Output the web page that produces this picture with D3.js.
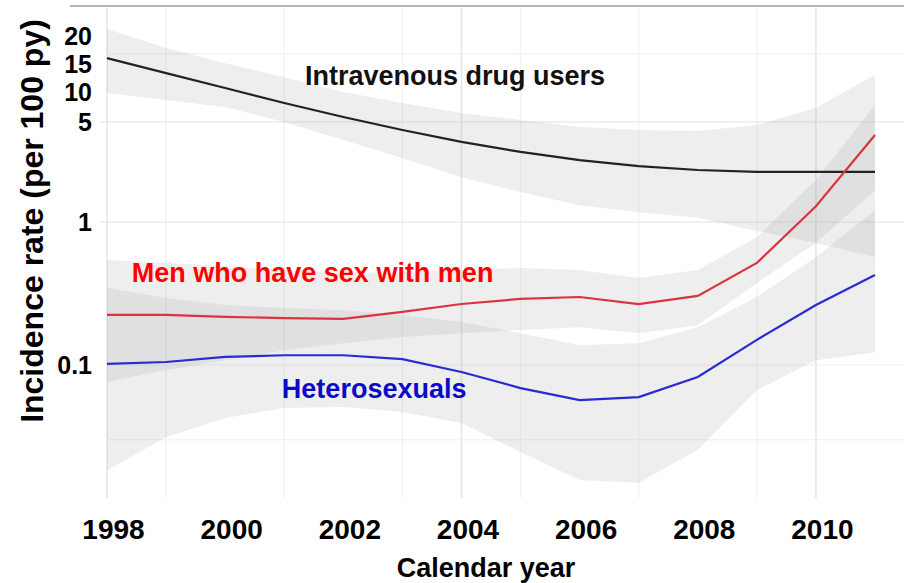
<!DOCTYPE html>
<html>
<head>
<meta charset="utf-8">
<script src="https://cdn.jsdelivr.net/npm/d3@7"></script>
<style>
    body { margin: 0; background: #fff; }
    text { font-family: "Liberation Sans", Arial, sans-serif; font-weight: bold; }
</style>
</head>
<body>
<svg id="chart"></svg>
<script>
    const width = 904;
    const height = 583;

    // calendar years (x categories)
    const years = [1998, 1999, 2000, 2001, 2002, 2003, 2004, 2005, 2006, 2007, 2008, 2009, 2010, 2011];

    // Intravenous drug users: fitted incidence and confidence band
    const iduRate = [14.0, 11.0, 8.65, 6.79, 5.42, 4.40, 3.63, 3.09, 2.71, 2.46, 2.31, 2.24, 2.24, 2.24];
    const iduHigh = [22.4, 16.5, 12.9, 10.3, 8.11, 6.79, 5.78, 5.17, 4.62, 4.40, 4.33, 4.77, 6.27, 10.7];
    const iduLow = [7.98, 7.13, 6.37, 5.00, 3.75, 2.80, 2.06, 1.62, 1.31, 1.17, 1.07, 0.865, 0.713, 0.569];

    // Men who have sex with men
    const msmRate = [0.224, 0.224, 0.217, 0.213, 0.210, 0.235, 0.267, 0.290, 0.299, 0.267, 0.304, 0.517, 1.29, 4.06];
    const msmHigh = [0.542, 0.517, 0.492, 0.462, 0.440, 0.447, 0.462, 0.477, 0.462, 0.406, 0.462, 0.785, 1.97, 6.58];
    const msmLow = [0.0761, 0.0923, 0.108, 0.127, 0.142, 0.157, 0.167, 0.176, 0.184, 0.167, 0.190, 0.374, 0.713, 1.67];

    // Heterosexuals
    const hetRate = [0.102, 0.105, 0.114, 0.117, 0.117, 0.110, 0.0893, 0.069, 0.0569, 0.0597, 0.0824, 0.150, 0.263, 0.426];
    const hetHigh = [0.345, 0.294, 0.263, 0.250, 0.242, 0.224, 0.200, 0.167, 0.138, 0.142, 0.184, 0.299, 0.569, 1.21];
    const hetLow = [0.0184, 0.0314, 0.0426, 0.0500, 0.0508, 0.0469, 0.0393, 0.0246, 0.0157, 0.0150, 0.0254, 0.0669, 0.108, 0.123];

    // axis ticks
    const xTicks = [1998, 2000, 2002, 2004, 2006, 2008, 2010];
    const yTicks = [20, 15, 10, 5, 1, 0.1];
    const yGridMajor = [1, 5];
    const yGridMinor = [15, 0.1, 0.03];
    const xGridMajor = [1998, 2004, 2010];
    const xGridMinor = [1999, 2001, 2003, 2005, 2007, 2009];

    // in-plot group labels (year, rate at baseline)
    const groupLabels = [
        { text: "Intravenous drug users", year: 2001.35, rate: 9.08, color: "#111111" },
        { text: "Men who have sex with men", year: 1998.42, rate: 0.38, color: "#ff0000" },
        { text: "Heterosexuals", year: 2000.96, rate: 0.0588, color: "#0a0ac8" }
    ];

    const series = [
        { rate: iduRate, low: iduLow, high: iduHigh, color: "#222222" },
        { rate: msmRate, low: msmLow, high: msmHigh, color: "#dc3340" },
        { rate: hetRate, low: hetLow, high: hetHigh, color: "#2a2ad2" }
    ];

    const svg = d3.select('#chart').attr('width', width).attr('height', height);

    const x = d3.scaleLinear().domain([1998, 2011]).range([107, 875]);
    const y = d3.scaleLog().domain([0.01175, 32.4]).range([498, 6]);

    // grid
    const grid = svg.append('g');
    grid.selectAll('.vminor').data(xGridMinor).enter().append('line')
        .attr('x1', d => x(d)).attr('x2', d => x(d))
        .attr('y1', 8).attr('y2', 498)
        .style('stroke', '#f3f3f3').style('stroke-width', 1.5);
    grid.selectAll('.vmajor').data(xGridMajor).enter().append('line')
        .attr('x1', d => x(d)).attr('x2', d => x(d))
        .attr('y1', 8).attr('y2', 498)
        .style('stroke', '#e4e4e4').style('stroke-width', 1.5);
    grid.selectAll('.hminor').data(yGridMinor).enter().append('line')
        .attr('x1', 107).attr('x2', width)
        .attr('y1', d => y(d)).attr('y2', d => y(d))
        .style('stroke', '#f3f3f3').style('stroke-width', 1.5);
    grid.selectAll('.hmajor').data(yGridMajor).enter().append('line')
        .attr('x1', 100).attr('x2', width)
        .attr('y1', d => y(d)).attr('y2', d => y(d))
        .style('stroke', '#ebebeb').style('stroke-width', 1.5);

    // top border
    svg.append('line')
        .attr('x1', 70).attr('x2', width).attr('y1', 6).attr('y2', 6)
        .style('stroke', '#9a9a9a').style('stroke-width', 1.5);

    // confidence bands
    const band = d3.area()
        .x((d, i) => x(years[i]))
        .y0(d => y(d[0]))
        .y1(d => y(d[1]));

    svg.append('g').selectAll('path')
        .data(series)
        .enter().append('path')
        .attr('d', s => band(s.low.map((v, i) => [v, s.high[i]])))
        .style('fill', '#aaaaaa')
        .style('opacity', 0.2);

    // fitted lines
    const line = d3.line()
        .x((d, i) => x(years[i]))
        .y(d => y(d));

    svg.append('g').selectAll('path')
        .data(series)
        .enter().append('path')
        .attr('d', s => line(s.rate))
        .style('fill', 'none')
        .style('stroke', s => s.color)
        .style('stroke-width', 2.2);

    // group labels
    svg.append('g').selectAll('text')
        .data(groupLabels)
        .enter().append('text')
        .attr('x', d => x(d.year))
        .attr('y', d => y(d.rate))
        .style('font-size', '27px')
        .style('fill', d => d.color)
        .text(d => d.text);

    // x axis
    const xAxis = svg.append('g')
        .attr('transform', 'translate(0,508)')
        .call(d3.axisBottom(x).tickValues(xTicks).tickFormat(d3.format('d')).tickSize(0));
    xAxis.select('.domain').remove();
    xAxis.selectAll('text')
        .attr('dx', 6)
        .attr('dy', '1em')
        .style('font-size', '28px')
        .style('font-family', '"Liberation Sans", Arial, sans-serif')
        .style('fill', '#000');

    // y axis labels: placed at their scale position, pushed apart where the
    // crowded upper ticks would collide
    const minGap = 28;
    let prevY = -Infinity;
    const yLabelPos = yTicks.map(v => {
        const pos = Math.max(y(v), prevY + minGap);
        prevY = pos;
        return { v: v, pos: pos };
    });

    svg.append('g').selectAll('text')
        .data(yLabelPos)
        .enter().append('text')
        .attr('x', 92)
        .attr('y', d => d.pos)
        .attr('dy', '0.35em')
        .attr('text-anchor', 'end')
        .style('font-size', '25px')
        .style('fill', '#000')
        .text(d => d.v);

    // axis titles
    svg.append('text')
        .attr('x', 486).attr('y', 577)
        .attr('text-anchor', 'middle')
        .style('font-size', '27px')
        .text('Calendar year');

    svg.append('text')
        .attr('transform', 'translate(43,221) rotate(-90)')
        .attr('text-anchor', 'middle')
        .style('font-size', '32px')
        .text('Incidence rate (per 100 py)');
</script>
</body>
</html>
